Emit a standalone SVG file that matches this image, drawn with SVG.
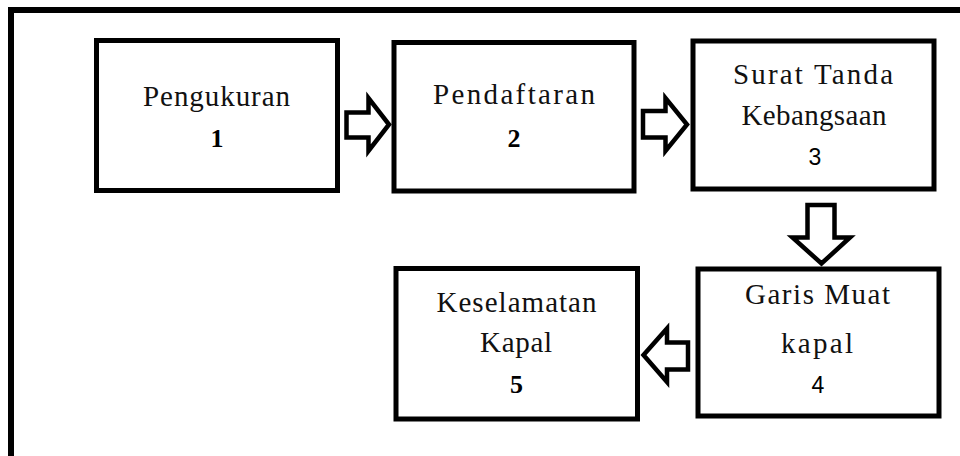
<svg xmlns="http://www.w3.org/2000/svg" width="960" height="456" viewBox="0 0 960 456">
  <style>
    .frame { fill: none; stroke: #000; stroke-width: 6; }
    .box { fill: #fff; stroke: #000; stroke-width: 5; }
    .arrow { fill: #fff; stroke: #000; stroke-width: 4.5; stroke-linejoin: miter; stroke-miterlimit: 10; }
    .label { font-family: "Liberation Serif", "Times New Roman", serif; font-size: 29px; fill: #111; text-anchor: middle; }
    .num { font-family: "Liberation Serif", "Times New Roman", serif; font-size: 26px; font-weight: bold; fill: #000; text-anchor: middle; }
    .numSans { font-family: "Liberation Sans", Arial, sans-serif; font-size: 23px; fill: #000; text-anchor: middle; }
  </style>
  <rect width="960" height="456" fill="#fff"/>
  <rect class="frame" x="11" y="10" width="1000" height="500"/>

  <g id="connectors">
    <polygon class="arrow" points="346.5,112.5 368.5,112.5 368.5,98 389,124.5 368.5,151 368.5,137.5 346.5,137.5"/>
    <polygon class="arrow" points="643,111 665.5,111 665.5,98 687,124.5 665.5,151 665.5,137.5 643,137.5"/>
    <polygon class="arrow" points="807.5,205 834.5,205 834.5,237.5 850,237.5 821.5,263.5 792.5,237.5 807.5,237.5"/>
    <polygon class="arrow" points="688,342.5 667,342.5 667,328.5 643.5,355 667,382 667,369.5 688,369.5"/>
  </g>

  <g id="node1">
    <rect class="box" x="96.5" y="40.5" width="241" height="150"/>
    <text class="label" x="216.5" y="106" textLength="147" lengthAdjust="spacing">Pengukuran</text>
    <text class="num" x="217" y="147">1</text>
  </g>
  <g id="node2">
    <rect class="box" x="394" y="42.5" width="240" height="148.5"/>
    <text class="label" x="514" y="104" textLength="162" lengthAdjust="spacing">Pendaftaran</text>
    <text class="num" x="514" y="147">2</text>
  </g>
  <g id="node3">
    <rect class="box" x="693" y="41" width="241" height="148"/>
    <text class="label" x="813" y="83.5" textLength="160" lengthAdjust="spacing">Surat Tanda</text>
    <text class="label" x="814" y="125" textLength="145" lengthAdjust="spacing">Kebangsaan</text>
    <text class="numSans" x="815" y="165">3</text>
  </g>
  <g id="node4">
    <rect class="box" x="698" y="269" width="241" height="147"/>
    <text class="label" x="817.5" y="303.5" textLength="145" lengthAdjust="spacing">Garis Muat</text>
    <text class="label" x="817" y="353" textLength="72" lengthAdjust="spacing">kapal</text>
    <text class="numSans" x="818" y="393">4</text>
  </g>
  <g id="node5">
    <rect class="box" x="396" y="268.5" width="241.5" height="150.5"/>
    <text class="label" x="516.5" y="311.5" textLength="160" lengthAdjust="spacing">Keselamatan</text>
    <text class="label" x="516" y="351.5" textLength="72" lengthAdjust="spacing">Kapal</text>
    <text class="num" x="516.5" y="393">5</text>
  </g>
</svg>
